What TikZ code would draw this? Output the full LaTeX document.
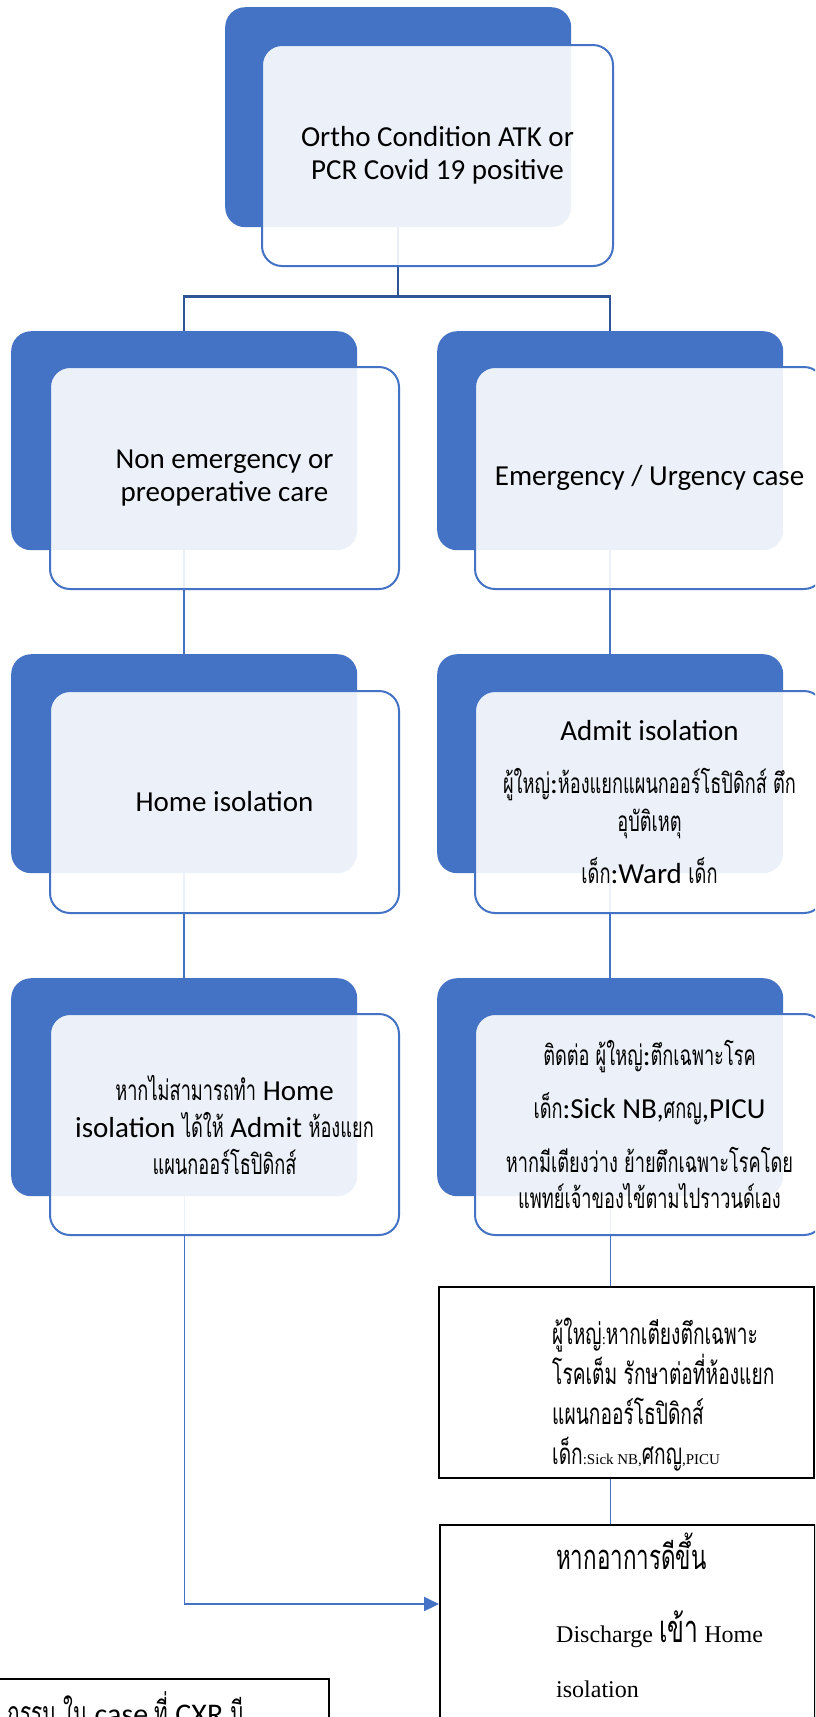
\documentclass[tikz,border=0pt]{standalone}
\usepackage{fontspec}
\setmainfont{Carlito}
\newfontfamily\thaiF[Script=Thai,FakeStretch=0.65]{Loma}
\newfontfamily\timesF{Liberation Serif}
\usetikzlibrary{arrows.meta}
\definecolor{accent}{HTML}{4472C4}
\definecolor{accentdk}{HTML}{2F5597}
\newcommand{\tha}[1]{{\fontsize{28}{30}\thaiF #1}}
\newcommand{\thb}[1]{{\fontsize{29.5}{30}\thaiF #1}}
\newcommand{\thc}[1]{{\fontsize{32}{34}\thaiF #1}}
\tikzset{
  darkbox/.style={anchor=north west, fill=accent, rounded corners=20pt, inner sep=0pt, minimum width=346pt},
  lightbox/.style={anchor=north west, fill=white, fill opacity=0.9, text opacity=1, draw=accent, line width=2pt, rounded corners=20pt, inner sep=0pt, minimum width=349pt, align=center},
  plainbox/.style={anchor=north west, draw=black, line width=2pt, inner sep=0pt},
  conntop/.style={draw=accentdk, line width=2.5pt},
  conn/.style={draw=accent, line width=2pt},
  connthin/.style={draw=accent, line width=1pt},
}
\begin{document}
\begin{tikzpicture}[x=1pt,y=-1pt,font=\fontsize{29}{33}\selectfont]
\useasboundingbox (0,0) rectangle (815,1717);
\fill[white] (0,0) rectangle (815,1717);
\clip (0,0) rectangle (815,1717);
% dark back boxes
\node[darkbox, minimum height=220pt] (d0) at (225,7) {};
\node[darkbox, minimum height=219pt] (d1L) at (11,331) {};
\node[darkbox, minimum height=219pt] (d1R) at (437,331) {};
\node[darkbox, minimum height=219pt] (d2L) at (11,654) {};
\node[darkbox, minimum height=219pt] (d2R) at (437,654) {};
\node[darkbox, minimum height=218pt] (d3L) at (11,978) {};
\node[darkbox, minimum height=218pt] (d3R) at (437,978) {};
% connectors behind the front boxes
\draw[conntop] (d0.south) -- ++(0,69) -| (d1L.north);
\draw[conntop] (d0.south) -- ++(0,69) -| (d1R.north);
\draw[conn] (d1L.south) -- (d2L.north);
\draw[conn] (d1R.south) -- (d2R.north);
\draw[conn] (d2L.south) -- (d3L.north);
\draw[conn] (d2R.south) -- (d3R.north);
% plain boxes
\node[plainbox, minimum width=375pt, minimum height=191pt] (box1) at (438,1286) {};
\node[plainbox, minimum width=375pt, minimum height=240pt] (disc) at (439,1524) {};
\node[plainbox, line width=1.5pt, minimum width=400pt, minimum height=100pt] (note) at (-72,1678) {};
\coordinate (arrin) at ([yshift=-80pt]disc.north west);
\coordinate (bend) at (arrin -| d3L.south);
\draw[connthin] (d3L.south) -- (bend);
\draw[conn, -{Triangle[length=15pt,width=14pt]}] (bend) -- (arrin);
\draw[connthin] (d3R.south) -- (d3R.south |- box1.north);
\draw[connthin] (d3R.south |- box1.south) -- (d3R.south |- disc.north);
% front boxes
\node[lightbox, minimum width=351pt, minimum height=221pt] (l0) at (261,44)
  {Ortho Condition ATK or\\PCR Covid 19 positive};
\node[lightbox, minimum height=222pt] (l1L) at (49,366)
  {Non emergency or\\preoperative care};
\node[lightbox, minimum height=222pt] (l1R) at (474,366)
  {Emergency / Urgency case};
\node[lightbox, minimum height=222pt] (l2L) at (49,690)
  {Home isolation};
\node[lightbox, minimum height=222pt] (l2R) at (474,690)
  {Admit isolation\\[20pt]\tha{ผู้ใหญ่}:\tha{ห้องแยกแผนกออร์โธปิดิกส์ ตึก}\\[5pt]\tha{อุบัติเหตุ}\\[17pt]\tha{เด็ก}:Ward \tha{เด็ก}};
\node[lightbox, minimum height=221pt] (l3L) at (49,1013)
  {\tha{หากไม่สามารถทำ} Home\\[4pt]isolation \tha{ได้ให้} Admit \tha{ห้องแยก}\\[4pt]\tha{แผนกออร์โธปิดิกส์}};
\node[lightbox, minimum height=221pt] (l3R) at (474,1013)
  {\tha{ติดต่อ ผู้ใหญ่}:\tha{ตึกเฉพาะโรค}\\[18pt]\tha{เด็ก}:Sick NB,\tha{ศกญ},PICU\\[21pt]\tha{หากมีเตียงว่าง ย้ายตึกเฉพาะโรคโดย}\\[3pt]\tha{แพทย์เจ้าของไข้ตามไปราวนด์เอง}};
% texts of the plain boxes
\node[anchor=west, align=left, inner sep=0pt, font=\fontsize{15}{40}\selectfont\timesF] (box1t) at (552,1395)
  {\thb{ผู้ใหญ่}:\thb{หากเตียงตึกเฉพาะ}\\\thb{โรคเต็ม รักษาต่อที่ห้องแยก}\\\thb{แผนกออร์โธปิดิกส์}\\\thb{เด็ก}:Sick NB,\thb{ศกญ},PICU};
\node[anchor=north west, align=left, inner sep=0pt, font=\fontsize{24}{55}\selectfont\timesF] (disct) at (556,1533)
  {{\fontsize{34.5}{40}\thaiF หากอาการดีขึ้น}\\[18pt]Discharge {\fontsize{38}{40}\thaiF เข้า} Home\\isolation};
\node[anchor=base east, inner sep=0pt, font=\fontsize{30}{34}\selectfont] (notet) at (244,1724)
  {\thc{กรรม ใน} case \thc{ที่} CXR \thc{มี}};
\end{tikzpicture}
\end{document}
